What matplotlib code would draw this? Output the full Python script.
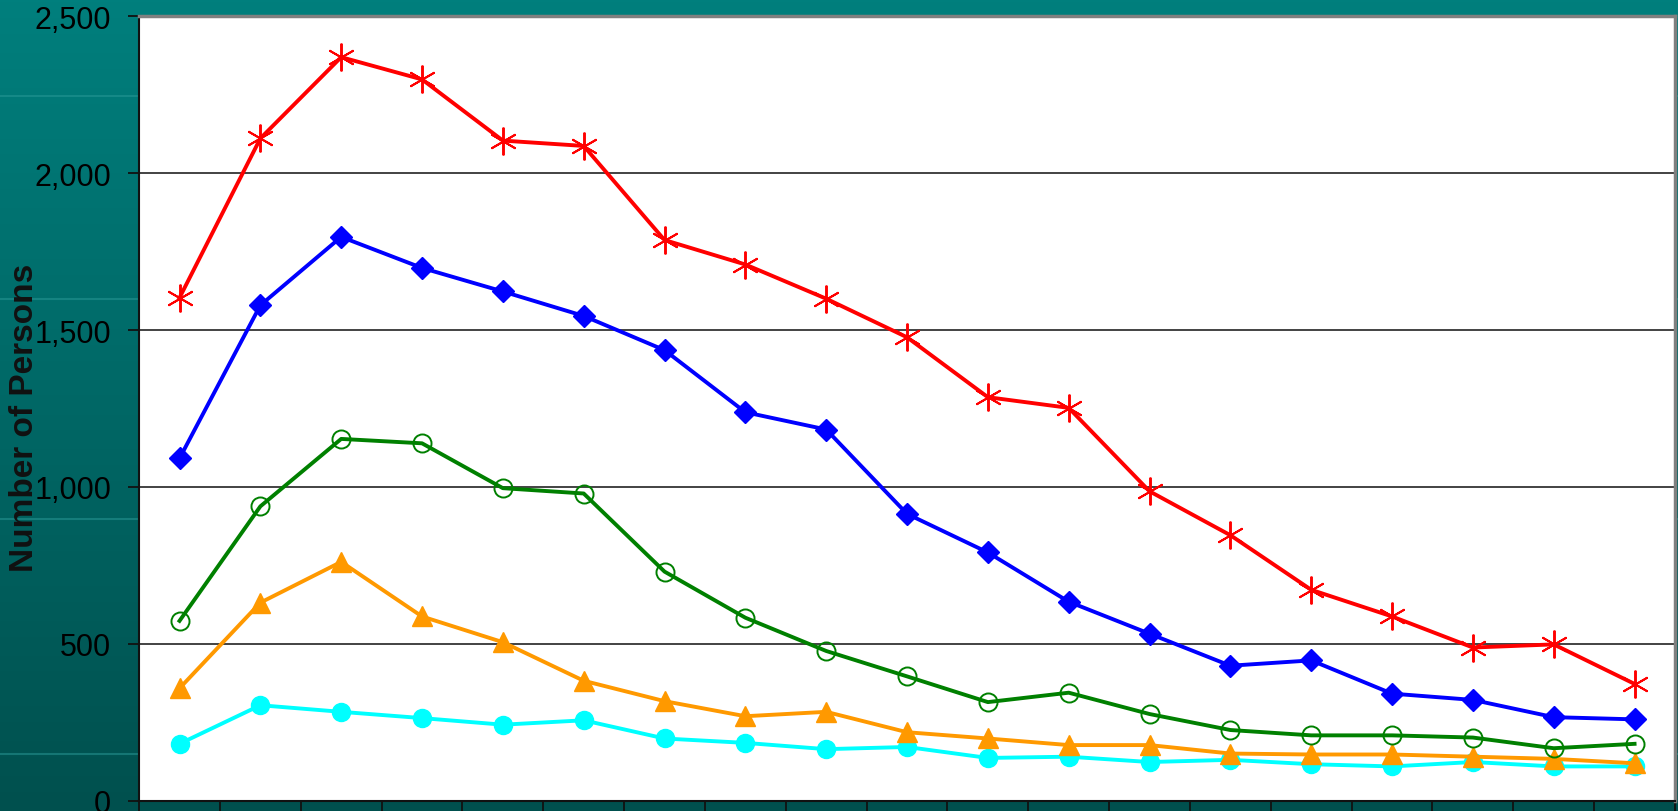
import numpy as np
import matplotlib.pyplot as plt
from matplotlib.ticker import FuncFormatter
from matplotlib import font_manager

# Series values (Number of Persons), 19 categories
categories = list(range(1, 20))
red_vals = [1603, 2111, 2370, 2299, 2104, 2087, 1787, 1709, 1600, 1477,
            1286, 1252, 986, 846, 672, 587, 488, 498, 372]
blue_vals = [1091, 1579, 1797, 1698, 1623, 1545, 1436, 1238, 1183, 914,
             791, 634, 532, 430, 447, 341, 321, 266, 259]
green_vals = [573, 938, 1153, 1139, 996, 979, 730, 583, 477, 396,
              314, 344, 276, 225, 208, 208, 201, 167, 181]
orange_vals = [358, 631, 761, 587, 505, 382, 317, 269, 283, 218,
               198, 177, 177, 150, 147, 147, 140, 133, 119]
cyan_vals = [181, 304, 283, 263, 242, 256, 198, 184, 164, 171,
             136, 140, 123, 130, 116, 109, 123, 109, 109]
y_ticks = [0, 500, 1000, 1500, 2000, 2500]

# pick a narrow font if we have one
names = {f.name for f in font_manager.fontManager.ttflist}
if "Liberation Sans Narrow" in names:
    font = "Liberation Sans Narrow"
else:
    font = "Liberation Sans"
plt.rcParams["font.family"] = [font, "DejaVu Sans"]

fig = plt.figure(figsize=(16.78, 8.12), dpi=100)

# teal gradient background
bg = fig.add_axes([0, 0, 1, 1], zorder=0)
grad = np.linspace(0, 1, 256).reshape(-1, 1)
top = np.array([0x00, 0x7f, 0x7d]) / 255
bot = np.array([0x00, 0x50, 0x4e]) / 255
img = top + (bot - top) * grad[:, :, None]
bg.imshow(img, aspect="auto", extent=[0, 1, 0, 1])
for yy in [0.88, 0.63, 0.36, 0.07]:
    bg.axhline(yy, color="#2a9a98", lw=1.5, alpha=0.5)
bg.set_xlim(0, 1)
bg.set_ylim(0, 1)
bg.axis("off")

ax = fig.add_axes([0.0829, 0.0128, 0.9153, 0.9658], zorder=1)
ax.set_facecolor("white")

x = np.array(categories)
ax.plot(x, cyan_vals, color="#00FFFF", lw=2.8, marker="o", markersize=13,
        markerfacecolor="#00FFFF", markeredgecolor="#00FFFF", zorder=3)
ax.plot(x, orange_vals, color="#FF9900", lw=2.8, marker="^", markersize=15,
        markerfacecolor="#FF9900", markeredgecolor="#FF9900", zorder=4)
ax.plot(x, green_vals, color="#008000", lw=2.8, marker="o", markersize=13,
        markerfacecolor="none", markeredgecolor="#008000", markeredgewidth=1.4, zorder=5)
ax.plot(x, blue_vals, color="#0000FF", lw=2.8, marker="D", markersize=11.5,
        markerfacecolor="#0000FF", markeredgecolor="#0000FF", zorder=6)
ax.plot(x, red_vals, color="#FF0000", lw=2.8, marker=(6, 2, 0), markersize=20,
        markeredgecolor="#FF0000", markeredgewidth=1.4, zorder=7)

ax.set_xlim(0.5, 19.5)
ax.set_ylim(0, 2500)
ax.set_yticks(y_ticks)
ax.yaxis.set_major_formatter(FuncFormatter(lambda v, p: f"{int(v):,}"))
ax.set_xticks(np.arange(0.5, 20.5, 1))
ax.set_xticklabels([])
ax.tick_params(axis="x", direction="out", length=14, width=1.3, color="#111111")
ax.tick_params(axis="y", direction="out", length=8, width=1.3, color="#111111",
               labelsize=22, pad=12)
ax.yaxis.grid(True, color="#222222", lw=1.2)
ax.set_axisbelow(True)

for s in ["left", "bottom"]:
    ax.spines[s].set_color("#111111")
    ax.spines[s].set_linewidth(1.5)
for s in ["top", "right"]:
    ax.spines[s].set_color("#808080")
    ax.spines[s].set_linewidth(2.5)

fig.text(0.0145, 0.485, "Number of Persons", rotation=90, fontsize=24,
         fontweight="bold", ha="center", va="center", color="#111111")

fig.savefig("out.png", dpi=100)
